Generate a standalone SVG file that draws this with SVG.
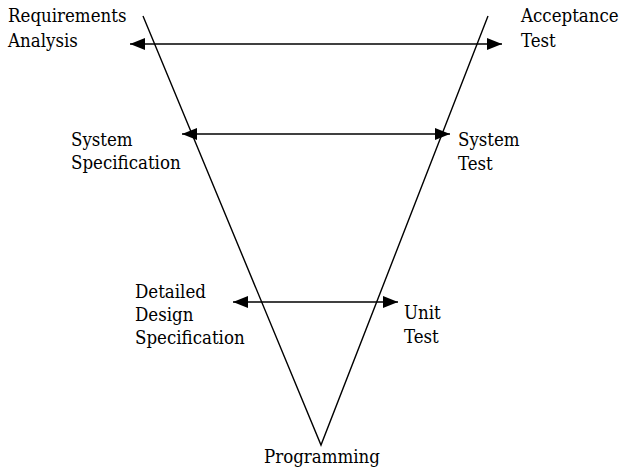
<svg xmlns="http://www.w3.org/2000/svg" width="623" height="475" viewBox="0 0 623 475">
  <style>
    text { font-family: "DejaVu Serif Condensed", "DejaVu Serif", serif; font-stretch: condensed; font-size: 18.5px; fill: #000; }
    .edge { stroke: #000; stroke-width: 1.4; fill: none; }
    .link { stroke: #000; stroke-width: 1.4; fill: none; marker-start: url(#head); marker-end: url(#head); }
  </style>
  <defs>
    <marker id="head" viewBox="0 0 15 12" refX="15" refY="6" markerWidth="15" markerHeight="12" markerUnits="userSpaceOnUse" orient="auto-start-reverse">
      <path d="M0,0 L15,6 L0,12 Z" fill="#000"/>
    </marker>
  </defs>

  <!-- the V: development leg on the left, testing leg on the right -->
  <g id="connectors">
    <path class="edge" d="M143,16 L321,445 L488,16"/>
    <line class="link" x1="130" y1="44" x2="502" y2="44"/>
    <line class="link" x1="182" y1="134" x2="450" y2="134"/>
    <line class="link" x1="233" y1="302" x2="398" y2="302"/>
  </g>

  <g id="requirements-analysis">
    <text x="8" y="22">Requirements</text>
    <text x="8" y="47">Analysis</text>
  </g>
  <g id="acceptance-test">
    <text x="521" y="22">Acceptance</text>
    <text x="521" y="47">Test</text>
  </g>
  <g id="system-specification">
    <text x="71" y="146">System</text>
    <text x="71" y="169">Specification</text>
  </g>
  <g id="system-test">
    <text x="458" y="146">System</text>
    <text x="458" y="170">Test</text>
  </g>
  <g id="detailed-design-specification">
    <text x="135" y="298">Detailed</text>
    <text x="135" y="321">Design</text>
    <text x="135" y="344">Specification</text>
  </g>
  <g id="unit-test">
    <text x="404" y="319">Unit</text>
    <text x="404" y="343">Test</text>
  </g>
  <g id="programming">
    <text x="322" y="463" text-anchor="middle">Programming</text>
  </g>
</svg>
